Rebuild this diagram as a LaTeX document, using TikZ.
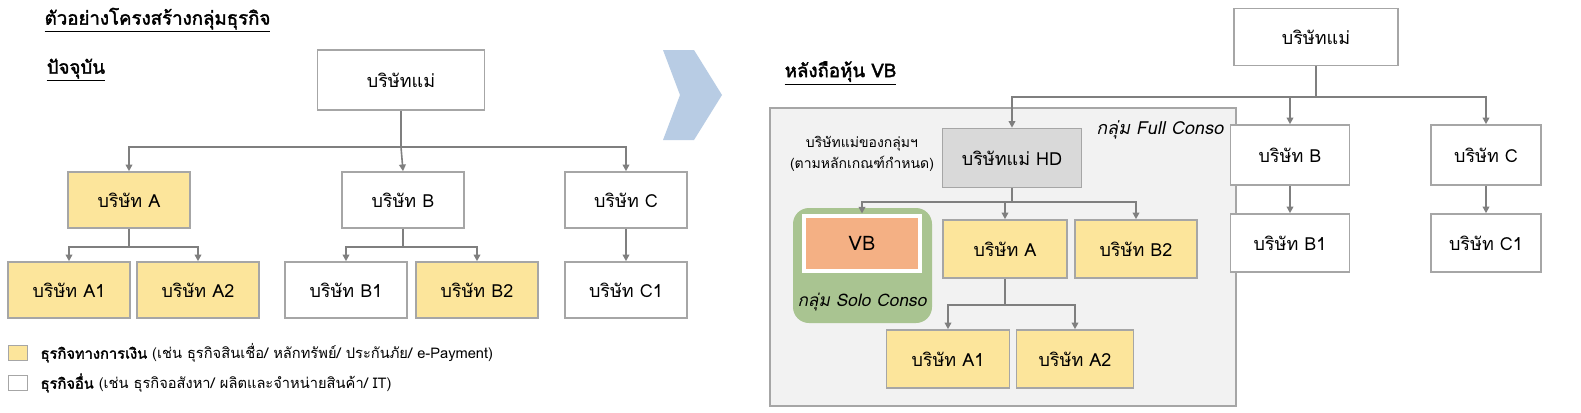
\documentclass[tikz,border=0pt]{standalone}
\usepackage{fontspec}
\setmainfont{Loma}[Script=Thai,AutoFakeBold=2,AutoFakeSlant=0.2]
\usetikzlibrary{arrows.meta}
\definecolor{yel}{HTML}{FCE59B}
\definecolor{ln}{HTML}{7F7F7F}
\definecolor{bd}{HTML}{A6A6A6}
\begin{document}
\begin{tikzpicture}[x=0.75pt,y=-0.75pt,
 box/.style={draw=bd,line width=1.2pt,minimum width=#1*0.75pt,font=\fontsize{13.5}{15}\selectfont,inner sep=0pt},
 bx/.style={box=122,minimum height=56*0.75pt},
 con/.style={draw=ln,line width=1.2pt},
 arr/.style={con,-{Triangle[length=5pt,width=5pt]}},
 ttl/.style={font=\bfseries\fontsize{14}{16}\selectfont,anchor=west}]
\useasboundingbox (0,0) rectangle (1581,412);
\fill[white] (0,0) rectangle (1581,412);
% titles
\node[ttl] (t1) at (40,20) {\underline{ตัวอย่างโครงสร้างกลุ่มธุรกิจ}};
\node[ttl] (t2) at (42,70) {\underline{ปัจจุบัน}};
\node[ttl] (t3) at (780,73) {\underline{หลังถือหุ้น VB}};
% left tree
\node[box=167,minimum height=60*0.75pt] (P) at (401,80) {บริษัทแม่};
\node[bx,fill=yel] (A) at (129,200) {บริษัท A};
\node[bx] (B) at (403,200) {บริษัท B};
\node[bx] (C) at (626,200) {บริษัท C};
\node[bx,fill=yel] (A1) at (69,290) {บริษัท A1};
\node[bx,fill=yel] (A2) at (198,290) {บริษัท A2};
\node[bx] (B1) at (346,290) {บริษัท B1};
\node[bx,fill=yel] (B2) at (477,290) {บริษัท B2};
\node[bx] (C1) at (626,290) {บริษัท C1};
\coordinate (j1) at (401,147);
\draw[con] (P.south) -- (j1);
\draw[arr] (j1) -| (A.north);
\draw[arr] (j1) -- (B.north);
\draw[arr] (j1) -| (C.north);
\coordinate (ja) at (129,247);
\draw[con] (A.south) -- (ja);
\draw[arr] (ja) -| (A1.north);
\draw[arr] (ja) -| (A2.north);
\coordinate (jb) at (403,247);
\draw[con] (B.south) -- (jb);
\draw[arr] (jb) -| (B1.north);
\draw[arr] (jb) -| (B2.north);
\draw[arr] (C.south) -- (C1.north);
% legend
\node[draw=bd,fill=yel,minimum width=14pt,minimum height=11pt,inner sep=0pt] (L1) at (18,353) {};
\node[draw=bd,minimum width=14pt,minimum height=11pt,inner sep=0pt] (L2) at (18,383) {};
\node[anchor=west,font=\fontsize{11}{12}\selectfont] (L1t) at (36,353) {\textbf{ธุรกิจทางการเงิน} (เช่น ธุรกิจสินเชื่อ/ หลักทรัพย์/ ประกันภัย/ e-Payment)};
\node[anchor=west,font=\fontsize{11}{12}\selectfont] (L2t) at (36,383) {\textbf{ธุรกิจอื่น} (เช่น ธุรกิจอสังหา/ ผลิตและจำหน่ายสินค้า/ IT)};
% big arrow
\fill[fill={rgb,255:red,184;green,204;blue,228}] (663,50) -- (694,50) -- (722,95) -- (694,140) -- (663,140) -- (680,95) -- cycle;
% right
\draw[draw=bd,fill={rgb,255:red,242;green,242;blue,242},line width=1pt] (770,108) rectangle (1236,406);
\node[anchor=east,font=\itshape\fontsize{13.5}{15}\selectfont] (fc) at (1228,130) {กลุ่ม Full Conso};
\fill[fill={rgb,255:red,169;green,196;blue,145},rounded corners=12pt] (793,208) rectangle (932,323);
\node[font=\itshape\fontsize{13}{15}\selectfont] (sc) at (862,302) {กลุ่ม Solo Conso};
\node[box=164,minimum height=57*0.75pt] (RP) at (1316,37) {บริษัทแม่};
\node[box=139,minimum height=59*0.75pt,fill={rgb,255:red,217;green,217;blue,217}] (HD) at (1012,158) {บริษัทแม่ HD};
\node[align=center,font=\fontsize{10.5}{16}\selectfont] (hdt) at (862,154) {บริษัทแม่ของกลุ่มฯ\\(ตามหลักเกณฑ์กำหนด)};
\node[box=119,minimum height=60*0.75pt,fill=white] (RB) at (1290,155) {บริษัท B};
\node[box=110,minimum height=60*0.75pt,fill=white] (RC) at (1486,155) {บริษัท C};
\node[box=119,minimum height=58*0.75pt,fill=white] (RB1) at (1290,243) {บริษัท B1};
\node[box=110,minimum height=58*0.75pt,fill=white] (RC1) at (1486,243) {บริษัท C1};
\node[draw=white,line width=3pt,fill={rgb,255:red,244;green,176;blue,132},minimum width=116*0.75pt,minimum height=55*0.75pt,font=\fontsize{15}{17}\selectfont] (VB) at (862,243) {VB};
\node[box=124,minimum height=58*0.75pt,fill=yel] (RA) at (1005,249) {บริษัท A};
\node[box=122,minimum height=58*0.75pt,fill=yel] (RB2) at (1136,249) {บริษัท B2};
\node[box=123,minimum height=58*0.75pt,fill=yel] (RA1) at (948,359) {บริษัท A1};
\node[box=117,minimum height=58*0.75pt,fill=yel] (RA2) at (1075,359) {บริษัท A2};
\coordinate (jr) at (1316,97);
\draw[con] (RP.south) -- (jr);
\draw[arr] (jr) -| (HD.north);
\draw[arr] (jr) -| (RB.north);
\draw[arr] (jr) -| (RC.north);
\draw[arr] (RB.south) -- (RB1.north);
\draw[arr] (RC.south) -- (RC1.north);
\coordinate (jh) at (1012,202);
\draw[con] (HD.south) -- (jh);
\draw[arr] (jh) -| (VB.north);
\draw[arr] (jh) -| (RA.north);
\draw[arr] (jh) -| (RB2.north);
\coordinate (jra) at (1005,305);
\draw[con] (RA.south) -- (jra);
\draw[arr] (jra) -| (RA1.north);
\draw[arr] (jra) -| (RA2.north);
\end{tikzpicture}
\end{document}
